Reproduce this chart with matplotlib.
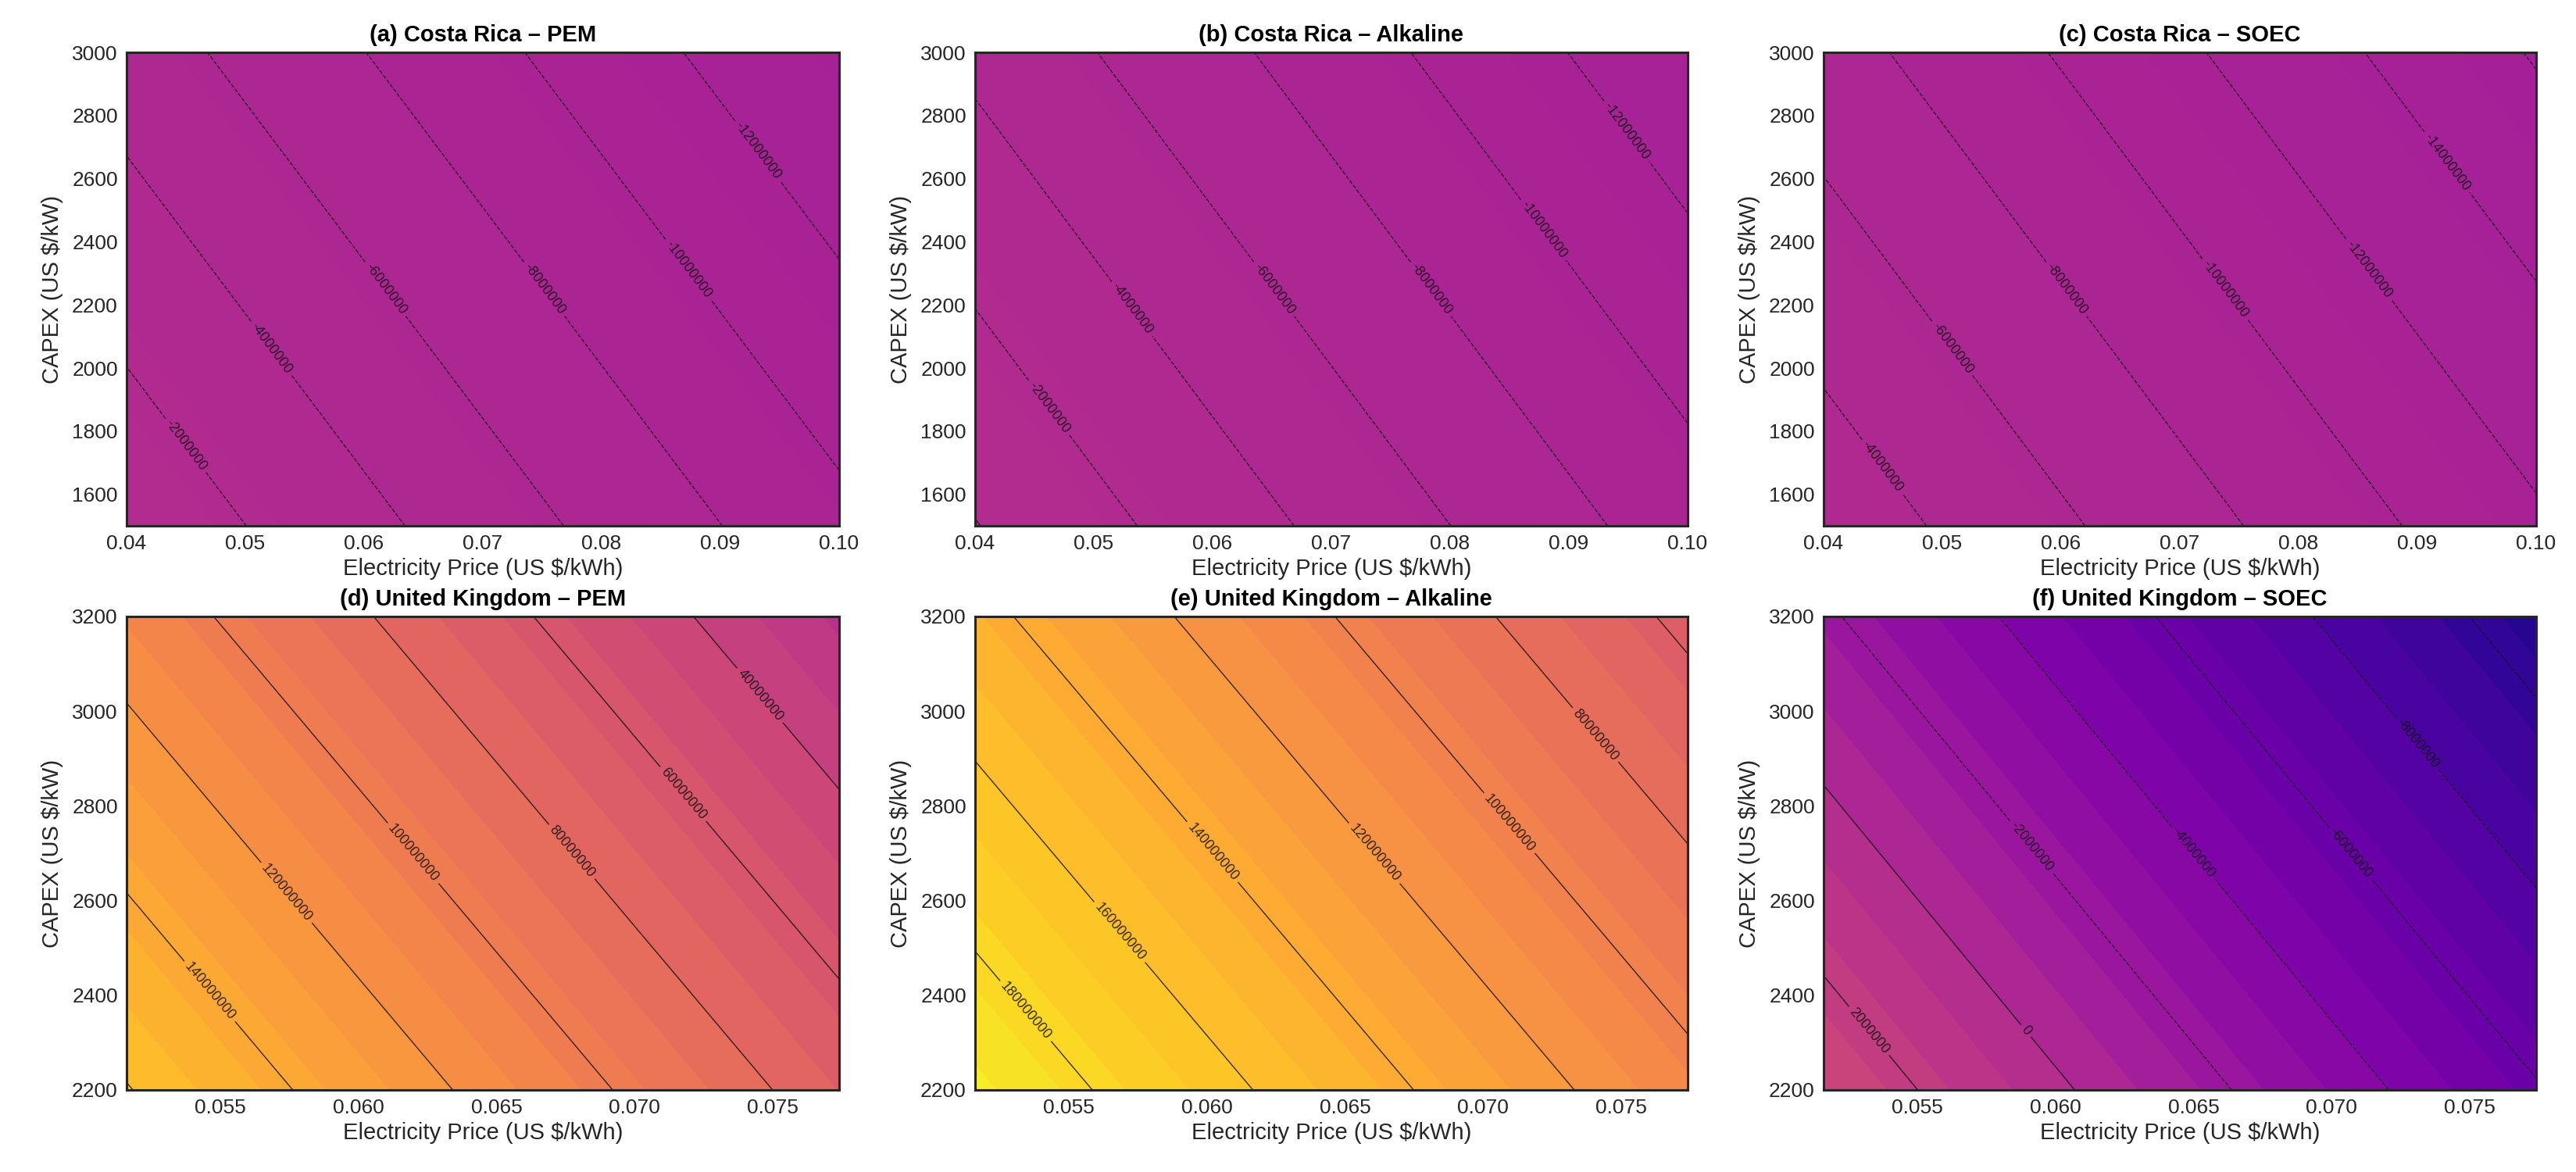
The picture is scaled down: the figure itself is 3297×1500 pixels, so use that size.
import numpy as np
import matplotlib
matplotlib.use("Agg")
import matplotlib.pyplot as plt

# ---------------- data ----------------
price_cr = [0.04, 0.10]          # electricity price range, Costa Rica (US $/kWh)
capex_cr = [1500, 3000]          # CAPEX range, Costa Rica (US $/kW)
price_uk = [0.0516, 0.0774]      # electricity price range, United Kingdom
capex_uk = [2200, 3200]          # CAPEX range, United Kingdom

# NPV (US $) at the panel corners:
# [[low CAPEX/low price, low CAPEX/high price], [high CAPEX/low price, high CAPEX/high price]]
npv_cr_pem = [[-0.49e6, -9.47e6], [-4.98e6, -13.96e6]]
npv_cr_alk = [[0.07e6, -9.02e6], [-4.44e6, -13.53e6]]
npv_cr_soec = [[-2.70e6, -11.69e6], [-7.17e6, -16.16e6]]
npv_uk_pem = [[160.8e6, 71.7e6], [110.9e6, 21.8e6]]
npv_uk_alk = [[194.6e6, 105.9e6], [144.8e6, 56.1e6]]
npv_uk_soec = [[3.2e6, -5.88e6], [-1.77e6, -10.85e6]]

titles = ["(a) Costa Rica \u2013 PEM", "(b) Costa Rica \u2013 Alkaline", "(c) Costa Rica \u2013 SOEC",
          "(d) United Kingdom \u2013 PEM", "(e) United Kingdom \u2013 Alkaline",
          "(f) United Kingdom \u2013 SOEC"]
xticks_cr = [0.04, 0.05, 0.06, 0.07, 0.08, 0.09, 0.10]
yticks_cr = [1600, 1800, 2000, 2200, 2400, 2600, 2800, 3000]
xticks_uk = [0.055, 0.060, 0.065, 0.070, 0.075]
yticks_uk = [2200, 2400, 2600, 2800, 3000, 3200]
xlabel = "Electricity Price (US $/kWh)"
ylabel = "CAPEX (US $/kW)"

# ---------------- style ----------------
plt.rcParams["font.family"] = ["Liberation Sans", "DejaVu Sans"]
plt.rcParams["axes.edgecolor"] = "#262626"
plt.rcParams["axes.linewidth"] = 1.1
plt.rcParams["xtick.color"] = "#262626"
plt.rcParams["ytick.color"] = "#262626"
plt.rcParams["axes.labelcolor"] = "#262626"

fig = plt.figure(figsize=(16.485, 7.5), dpi=200)

lefts = [0.0491, 0.3785, 0.7079]
width = 0.2766
bottoms = [0.5513, 0.0700]
height = 0.4040

panels = [
    (price_cr, capex_cr, npv_cr_pem, xticks_cr, yticks_cr, "%.2f", (-141e6, 206e6)),
    (price_cr, capex_cr, npv_cr_alk, xticks_cr, yticks_cr, "%.2f", (-141e6, 206e6)),
    (price_cr, capex_cr, npv_cr_soec, xticks_cr, yticks_cr, "%.2f", (-141e6, 206e6)),
    (price_uk, capex_uk, npv_uk_pem, xticks_uk, yticks_uk, "%.3f", (-115e6, 202e6)),
    (price_uk, capex_uk, npv_uk_alk, xticks_uk, yticks_uk, "%.3f", (-141e6, 206e6)),
    (price_uk, capex_uk, npv_uk_soec, xticks_uk, yticks_uk, "%.3f", (-12.0e6, 18.2e6)),
]


def npv_grid(px, cy, corners, n=25):
    p = np.linspace(px[0], px[1], n)
    c = np.linspace(cy[0], cy[1], n)
    P, C = np.meshgrid(p, c)
    u = (P - px[0]) / (px[1] - px[0])
    v = (C - cy[0]) / (cy[1] - cy[0])
    z = np.asarray(corners, dtype=float)
    Z = ((1 - u) * (1 - v) * z[0, 0] + u * (1 - v) * z[0, 1]
         + (1 - u) * v * z[1, 0] + u * v * z[1, 1])
    return P, C, Z


for i, (px, cy, corners, xt, yt, xfmt, (vmin, vmax)) in enumerate(panels):
    r, col = divmod(i, 3)
    ax = fig.add_axes([lefts[col], bottoms[r], width, height])
    P, C, Z = npv_grid(px, cy, corners)
    ax.contourf(P, C, Z, levels=20, cmap="plasma", vmin=vmin, vmax=vmax)
    cs = ax.contour(P, C, Z, colors="#111111", linewidths=0.5, alpha=0.85)
    ax.clabel(cs, inline=True, fontsize=6.5, fmt="%d")
    ax.set_xlim(px)
    ax.set_ylim(cy)
    ax.set_xticks(xt)
    ax.set_xticklabels([xfmt % v for v in xt], fontsize=9.5)
    ax.set_yticks(yt)
    ax.set_yticklabels([str(v) for v in yt], fontsize=9.5)
    ax.tick_params(length=0, pad=4)
    ax.set_xlabel(xlabel, fontsize=10.5, labelpad=2)
    ax.set_ylabel(ylabel, fontsize=10.5, labelpad=4)
    ax.set_title(titles[i], fontsize=10.5, fontweight="bold", pad=5)

fig.savefig("out.png", dpi=200)
